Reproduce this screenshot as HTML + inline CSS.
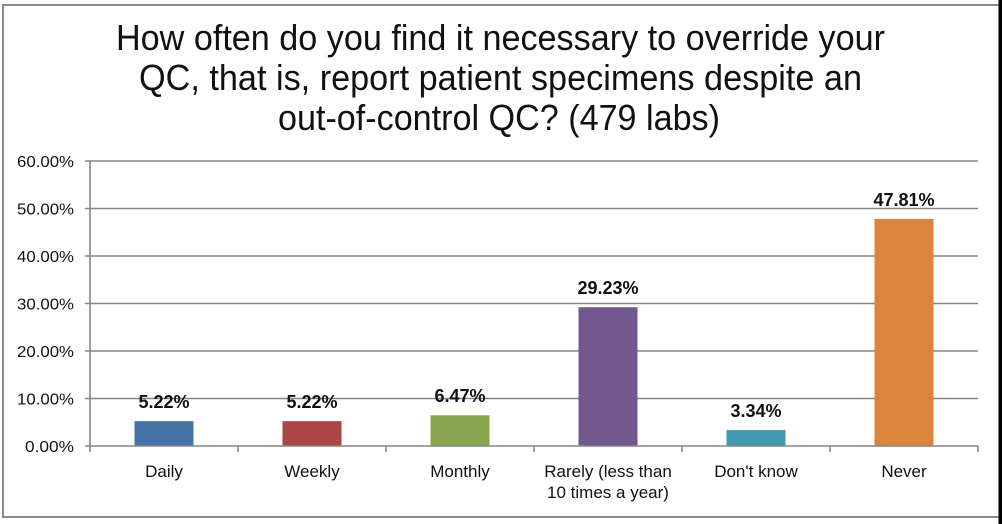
<!DOCTYPE html>
<html>
<head>
<meta charset="utf-8">
<style>
  html, body { margin: 0; padding: 0; background: #ffffff; }
  body { width: 1002px; height: 524px; overflow: hidden; }
  svg { display: block; }
  .t { font-family: "Liberation Sans", Arial, sans-serif; fill: #111; }
</style>
</head>
<body>
<svg width="1002" height="524" viewBox="0 0 1002 524" xmlns="http://www.w3.org/2000/svg">
  <rect x="0" y="0" width="1002" height="524" fill="#ffffff"/>
  <!-- frame -->
  <rect x="998.5" y="0" width="3.5" height="524" fill="#000"/>
  <rect x="2" y="4" width="996.5" height="2" fill="#8a8a8a"/>
  <rect x="2" y="4" width="2" height="514" fill="#8a8a8a"/>
  <rect x="2" y="516" width="996.5" height="2" fill="#8a8a8a"/>

  <!-- title -->
  <text class="t" x="116" y="50" font-size="36" textLength="769" lengthAdjust="spacingAndGlyphs">How often do you find it necessary to override your</text>
  <text class="t" x="139" y="90" font-size="36" textLength="723" lengthAdjust="spacingAndGlyphs">QC, that is, report patient specimens despite an</text>
  <text class="t" x="278" y="130" font-size="36" textLength="442" lengthAdjust="spacingAndGlyphs">out-of-control QC? (479 labs)</text>

  <!-- gridlines -->
  <g stroke="#868686" stroke-width="1.6">
    <line x1="85" y1="161" x2="978" y2="161"/>
    <line x1="85" y1="208.5" x2="978" y2="208.5"/>
    <line x1="85" y1="256" x2="978" y2="256"/>
    <line x1="85" y1="303.5" x2="978" y2="303.5"/>
    <line x1="85" y1="351" x2="978" y2="351"/>
    <line x1="85" y1="398.5" x2="978" y2="398.5"/>
  </g>

  <!-- bars -->
  <rect x="134.5" y="421.2" width="59" height="24.8" fill="#4572A7"/>
  <rect x="282.5" y="421.2" width="59" height="24.8" fill="#AA4643"/>
  <rect x="430.5" y="415.3" width="59" height="30.7" fill="#89A54E"/>
  <rect x="578.5" y="307.2" width="59" height="138.8" fill="#71588F"/>
  <rect x="726.5" y="430.1" width="59" height="15.9" fill="#4198AF"/>
  <rect x="874.5" y="218.9" width="59" height="227.1" fill="#DB843D"/>

  <!-- axes -->
  <g stroke="#868686" stroke-width="1.6">
    <line x1="90" y1="161" x2="90" y2="446"/>
    <line x1="85" y1="446" x2="978" y2="446"/>
    <line x1="90" y1="446" x2="90" y2="452"/>
    <line x1="238" y1="446" x2="238" y2="452"/>
    <line x1="386" y1="446" x2="386" y2="452"/>
    <line x1="534" y1="446" x2="534" y2="452"/>
    <line x1="682" y1="446" x2="682" y2="452"/>
    <line x1="830" y1="446" x2="830" y2="452"/>
    <line x1="978" y1="446" x2="978" y2="452"/>
  </g>

  <!-- y labels -->
  <g class="t" font-size="16" fill="#222" text-anchor="end">
    <text x="74" y="167" textLength="57" lengthAdjust="spacingAndGlyphs">60.00%</text>
    <text x="74" y="214.5" textLength="57" lengthAdjust="spacingAndGlyphs">50.00%</text>
    <text x="74" y="262" textLength="57" lengthAdjust="spacingAndGlyphs">40.00%</text>
    <text x="74" y="309.5" textLength="57" lengthAdjust="spacingAndGlyphs">30.00%</text>
    <text x="74" y="357" textLength="57" lengthAdjust="spacingAndGlyphs">20.00%</text>
    <text x="74" y="404.5" textLength="57" lengthAdjust="spacingAndGlyphs">10.00%</text>
    <text x="74" y="452" textLength="49" lengthAdjust="spacingAndGlyphs">0.00%</text>
  </g>

  <!-- data labels -->
  <g class="t" font-size="18" font-weight="bold" fill="#1a1a1a" text-anchor="middle">
    <text x="164" y="408">5.22%</text>
    <text x="312" y="408">5.22%</text>
    <text x="460" y="402">6.47%</text>
    <text x="608" y="294">29.23%</text>
    <text x="756" y="417">3.34%</text>
    <text x="904" y="206">47.81%</text>
  </g>

  <!-- category labels -->
  <g class="t" font-size="17" fill="#222" text-anchor="middle">
    <text x="164" y="477">Daily</text>
    <text x="312" y="477">Weekly</text>
    <text x="460" y="477">Monthly</text>
    <text x="608" y="477">Rarely (less than</text>
    <text x="608" y="498">10 times a year)</text>
    <text x="756" y="477">Don't know</text>
    <text x="904" y="477">Never</text>
  </g>
</svg>
</body>
</html>
